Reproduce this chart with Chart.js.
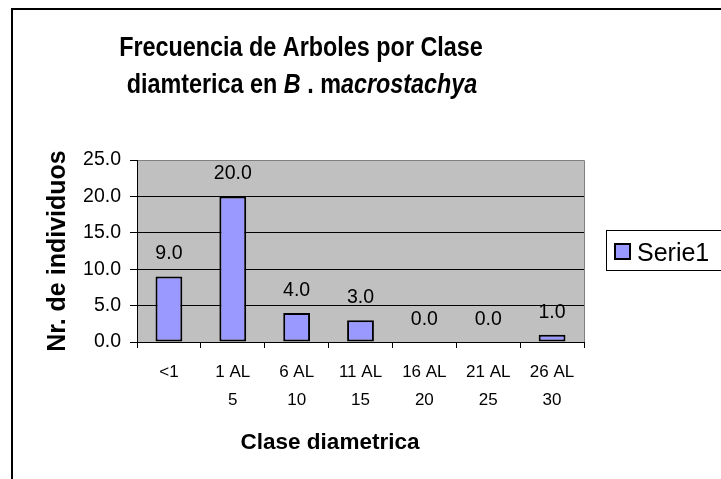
<!DOCTYPE html>
<html><head><meta charset="utf-8">
<script src="https://cdn.jsdelivr.net/npm/chart.js@4/dist/chart.umd.min.js"></script>
<style>html,body{margin:0;padding:0;background:#fff;overflow:hidden}#wrap{position:relative;width:721px;height:479px}</style>
</head><body><div id="wrap"><canvas id="c" width="721" height="479"></canvas></div>
<script>
const categories = [["<1"],["1 AL","5"],["6 AL","10"],["11 AL","15"],["16 AL","20"],["21 AL","25"],["26 AL","30"]];
const seriesName = "Serie1";
const values = [9, 20, 4, 3, 0, 0, 1];
const yTicks = [0, 5, 10, 15, 20, 25];
const titleLine1 = [["Frecuencia de Arboles por Clase", false]];
const titleLine2 = [["diamterica en ", false], ["B", true], [" . m", false], ["acrostachya", true]];
const xTitle = "Clase diametrica";
const yTitle = "Nr. de individuos";

const FAM = "'Liberation Sans', Arial, Helvetica, sans-serif";

function drawTitleLine(ctx, parts, cx, baseline) {
  const SX = 0.82, SIZE = 28.5;
  let total = 0;
  const m = parts.map(([t, it]) => {
    ctx.font = (it ? "italic " : "") + "bold " + SIZE + "px " + FAM;
    const w = ctx.measureText(t).width;
    total += w;
    return [t, it, w];
  });
  ctx.save();
  ctx.translate(cx - total * SX / 2, baseline);
  ctx.scale(SX, 1);
  ctx.textAlign = 'left';
  ctx.textBaseline = 'alphabetic';
  let x = 0;
  m.forEach(([t, it, w]) => {
    ctx.font = (it ? "italic " : "") + "bold " + SIZE + "px " + FAM;
    ctx.fillText(t, x, 0);
    x += w;
  });
  ctx.restore();
}

const decor = {
  id: 'decor',
  beforeDraw(chart) {
    const ctx = chart.ctx, a = chart.chartArea;
    ctx.save();
    ctx.fillStyle = '#fff';
    ctx.fillRect(0, 0, chart.width, chart.height);
    ctx.strokeStyle = '#000';
    ctx.lineWidth = 2;
    ctx.strokeRect(12, 9, 900, 700);
    ctx.fillStyle = '#c0c0c0';
    ctx.fillRect(a.left, a.top, a.right - a.left, a.bottom - a.top);
    ctx.strokeStyle = '#808080';
    ctx.lineWidth = 1;
    ctx.beginPath();
    ctx.moveTo(a.left, a.top + 0.5);
    ctx.lineTo(a.right + 0.5, a.top + 0.5);
    ctx.lineTo(a.right + 0.5, a.bottom);
    ctx.stroke();
    ctx.restore();
  },
  afterDatasetsDraw(chart) {
    const ctx = chart.ctx;
    ctx.save();
    ctx.fillStyle = '#000';
    ctx.font = "19.5px " + FAM;
    ctx.textAlign = 'center';
    ctx.textBaseline = 'alphabetic';
    const meta = chart.getDatasetMeta(0);
    meta.data.forEach((bar, i) => {
      const v = chart.data.datasets[0].data[i];
      ctx.fillText(v.toFixed(1), bar.x, bar.y - 17);
    });
    drawTitleLine(ctx, titleLine1, 301, 56);
    drawTitleLine(ctx, titleLine2, 302, 93);
    ctx.textAlign = 'center';
    ctx.font = "bold 22.5px " + FAM;
    ctx.fillText(xTitle, 330, 449);
    ctx.strokeStyle = '#000';
    ctx.lineWidth = 1;
    ctx.strokeRect(606.5, 230.5, 200, 40);
    const ds = chart.data.datasets[0];
    ctx.fillStyle = ds.backgroundColor;
    ctx.fillRect(615, 244, 15, 15);
    ctx.lineWidth = 2;
    ctx.strokeRect(615, 244, 15, 15);
    ctx.fillStyle = '#000';
    ctx.textAlign = 'left';
    ctx.font = "25px " + FAM;
    ctx.fillText(ds.label, 637, 261);
    ctx.restore();
  }
};

new Chart(document.getElementById('c'), {
  type: 'bar',
  data: {
    labels: categories,
    datasets: [{
      label: seriesName,
      data: values,
      backgroundColor: '#9999ff',
      borderColor: '#000',
      borderWidth: 2,
      borderSkipped: false,
      barPercentage: 0.42,
      categoryPercentage: 1.0
    }]
  },
  options: {
    responsive: false,
    animation: false,
    devicePixelRatio: 1,
    layout: { padding: { left: 0, top: 160, right: 137, bottom: 0 } },
    plugins: { legend: { display: false }, title: { display: false }, tooltip: { enabled: false } },
    scales: {
      x: {
        offset: true,
        grid: { offset: true, drawOnChartArea: false, drawTicks: true, tickLength: 6, tickColor: '#000', color: '#000' },
        border: { display: true, color: '#000', width: 1 },
        ticks: { font: { family: FAM, size: 17, lineHeight: 1.65 }, color: '#000', padding: 10, maxRotation: 0, autoSkip: false },
        afterFit: s => { s.height = 137; }
      },
      y: {
        min: 0, max: 25,
        afterBuildTicks: s => { s.ticks = yTicks.map(v => ({ value: v })); },
        grid: { color: c => (c.tick && c.tick.value === 25) ? '#808080' : '#000', tickColor: '#000', tickLength: 7, drawTicks: true },
        border: { display: true, color: '#000', width: 1 },
        ticks: { font: { family: FAM, size: 19.5 }, color: '#000', padding: 9, callback: v => Number(v).toFixed(1) },
        title: { display: true, text: yTitle, color: '#000', font: { family: FAM, size: 25, weight: 'bold', lineHeight: 1.2 }, padding: { top: 43, bottom: 0 } },
        afterFit: s => { s.width = 137; }
      }
    }
  },
  plugins: [decor]
});
</script>
</body></html>
